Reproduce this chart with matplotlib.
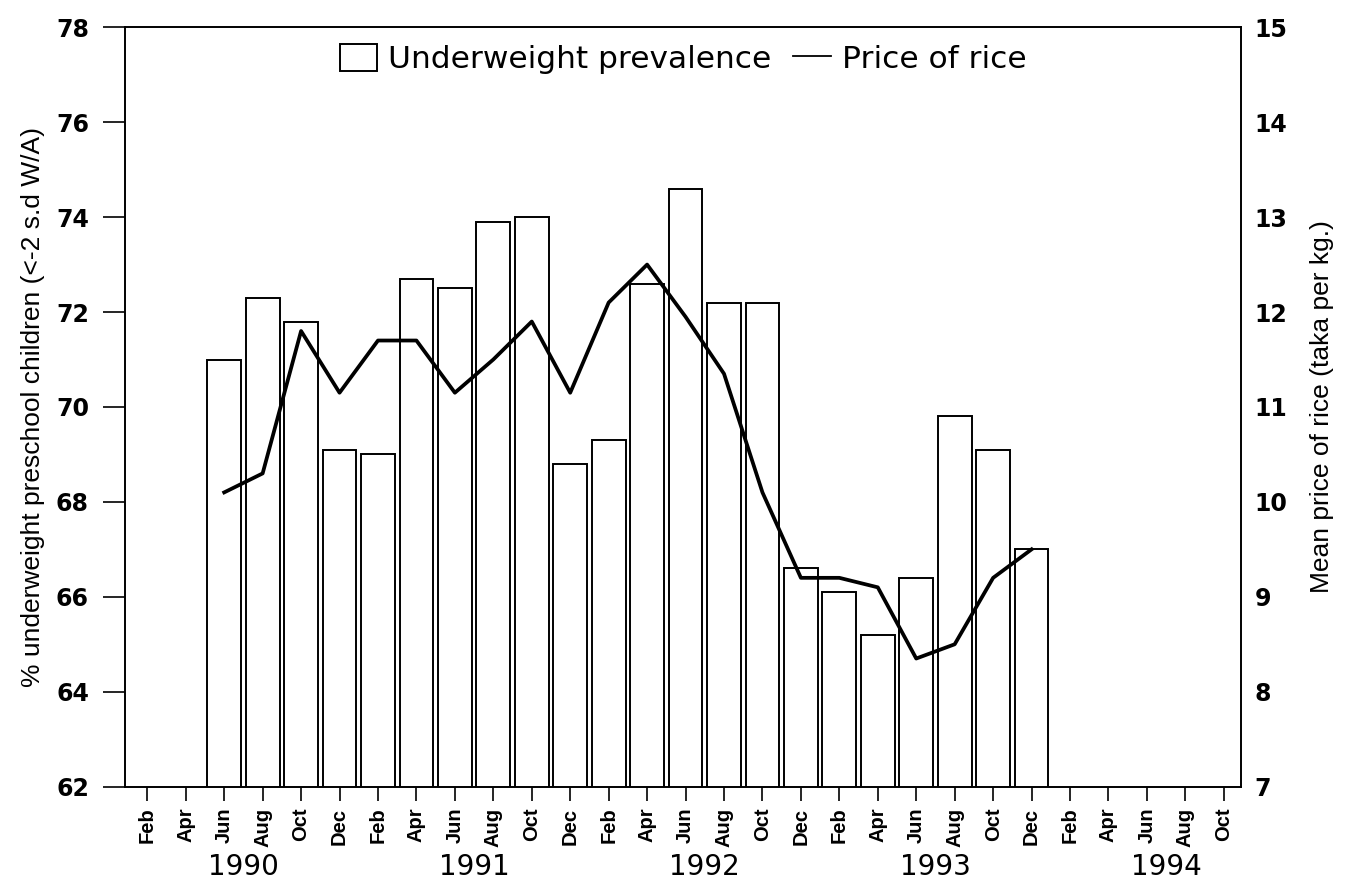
import matplotlib
matplotlib.use("Agg")
import matplotlib.pyplot as plt
import matplotlib.transforms as mtransforms
from matplotlib.patches import Patch
from matplotlib.lines import Line2D

# ---- data ---------------------------------------------------------
months = ["Feb", "Apr", "Jun", "Aug", "Oct", "Dec"]
years = ["1990", "1991", "1992", "1993", "1994"]
tick_labels = (months * 5)[:29]          # Feb 1990 .. Oct 1994

# Jun 1990 .. Dec 1993 (index 2 .. 23)
underweight = [71.0, 72.3, 71.8, 69.1, 69.0, 72.7, 72.5, 73.9, 74.0, 68.8,
               69.3, 72.6, 74.6, 72.2, 72.2, 66.6, 66.1, 65.2, 66.4, 69.8,
               69.1, 67.0]
rice_price = [10.1, 10.3, 11.8, 11.15, 11.7, 11.7, 11.15, 11.5, 11.9, 11.15,
              12.1, 12.5, 11.95, 11.35, 10.1, 9.2, 9.2, 9.1, 8.35, 8.5,
              9.2, 9.5]
first_idx = 2

xs = list(range(first_idx, first_idx + len(underweight)))

fig = plt.figure(figsize=(13.47, 8.85), dpi=100)
ax = fig.add_axes([0.0928, 0.1111, 0.8283, 0.8581])
ax2 = ax.twinx()

ax.bar(xs, underweight, width=0.88, bottom=0, facecolor="white",
       edgecolor="black", linewidth=1.4, zorder=2)
ax2.plot(xs, rice_price, color="black", lw=2.7, zorder=3)

ax.set_ylim(62, 78)
ax2.set_ylim(7, 15)
ax.set_xlim(-0.58, 28.44)
ax.set_yticks(range(62, 79, 2))
ax2.set_yticks(range(7, 16))

for a in (ax, ax2):
    for s in a.spines.values():
        s.set_linewidth(1.2)

ax.set_xticks(range(len(tick_labels)))
ax.set_xticklabels(tick_labels, rotation=90, fontsize=14.5, weight="bold",
                   family="Liberation Sans")
ax.tick_params(axis="x", length=10, width=1.2, pad=5)
ax.tick_params(axis="y", length=16, width=1.2, pad=10)
ax2.tick_params(axis="y", length=0, pad=10)
for lab in ax.get_yticklabels() + ax2.get_yticklabels():
    lab.set_family("DejaVu Sans")
    lab.set_fontsize(17)
    lab.set_weight("bold")

# year labels under the month ticks
trans = mtransforms.blended_transform_factory(ax.transData, ax.transAxes)
for i, yr in enumerate(years):
    ax.text(i * 6 + 2.5, -0.106, yr, transform=trans, ha="center",
            va="center", fontsize=20, family="DejaVu Sans")

ax.set_ylabel("% underweight preschool children (<-2 s.d W/A)",
              fontsize=19, family="Liberation Sans", labelpad=8)
ax2.set_ylabel("Mean price of rice (taka per kg.)",
               fontsize=19, family="Liberation Sans", labelpad=16)

handles = [Patch(facecolor="white", edgecolor="black", linewidth=1.4),
           Line2D([0], [0], color="black", lw=1.3)]
ax.legend(handles, ["Underweight prevalence", "Price of rice"],
          loc="upper center", bbox_to_anchor=(0.5, 1.015), ncol=2,
          frameon=False, prop={"family": "DejaVu Sans", "size": 22.5},
          handlelength=1.2, handleheight=0.95, handletextpad=0.35,
          columnspacing=0.7)

fig.savefig("out.png", dpi=100)
